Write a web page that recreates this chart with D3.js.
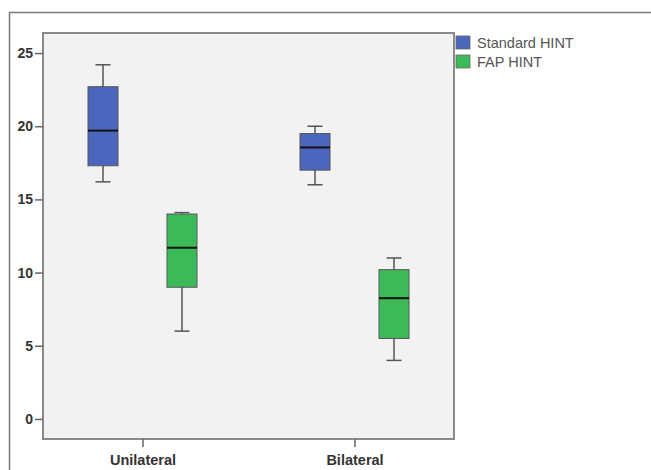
<!DOCTYPE html>
<html>
<head>
<meta charset="utf-8">
<script src="https://cdn.jsdelivr.net/npm/d3@7"></script>
<style>
  body { margin: 0; background: #fff; }
  svg { display: block; font-family: Arial, 'Liberation Sans', sans-serif; }
</style>
</head>
<body>
<div id="chart"></div>
<script>
const categories = ['Unilateral', 'Bilateral'];
const seriesNames = ['Standard HINT', 'FAP HINT'];
const seriesColors = ['#4a67bd', '#3cba58'];
// [min, q1, median, q3, max] per category
const standardHint = [
  [16.2, 17.3, 19.7, 22.7, 24.2],
  [16.0, 17.0, 18.55, 19.5, 20.0]
];
const fapHint = [
  [6.0, 9.0, 11.7, 14.0, 14.1],
  [4.0, 5.5, 8.25, 10.2, 11.0]
];
const yTicks = [0, 5, 10, 15, 20, 25];

const W = 651, H = 470;
const plot = { left: 43, top: 33, right: 454, bottom: 439 };

const svg = d3.select('#chart').append('svg').attr('width', W).attr('height', H);

// outer frame
svg.append('path')
  .attr('d', `M9.5,${H} V12.5 H${W}`)
  .attr('fill', 'none').attr('stroke', '#7a7a7a').attr('stroke-width', 1.5);

svg.append('rect')
  .attr('x', plot.left).attr('y', plot.top)
  .attr('width', plot.right - plot.left).attr('height', plot.bottom - plot.top)
  .attr('fill', '#f2f2f2').attr('stroke', '#8a8a8a').attr('stroke-width', 2);

const y = d3.scaleLinear().domain([-1.37, 26.37]).range([plot.bottom, plot.top]);
const x = d3.scaleBand().domain(categories).range([37, 461]);

const yAxis = svg.append('g')
  .attr('transform', `translate(${plot.left},0)`)
  .call(d3.axisLeft(y).tickValues(yTicks).tickSize(8).tickPadding(2));
yAxis.select('.domain').remove();
yAxis.selectAll('line').attr('stroke', '#666').attr('stroke-width', 1.5);
yAxis.selectAll('text').attr('fill', '#333').style('font-size', '14px').style('font-weight', 'bold');

const xAxis = svg.append('g')
  .attr('transform', `translate(0,${plot.bottom})`)
  .call(d3.axisBottom(x).tickSize(8).tickPadding(8));
xAxis.select('.domain').remove();
xAxis.selectAll('line').attr('stroke', '#666').attr('stroke-width', 1.5);
xAxis.selectAll('text').attr('fill', '#333').style('font-size', '14.5px').style('font-weight', 'bold');

const boxW = 30, capW = 15;
[standardHint, fapHint].forEach(function (series, si) {
  series.forEach(function (d, ci) {
    const cx = x(categories[ci]) + x.bandwidth() / 2 + (si === 0 ? -40 : 39);
    const g = svg.append('g');
    g.append('line').attr('x1', cx).attr('x2', cx).attr('y1', y(d[0])).attr('y2', y(d[4]))
      .attr('stroke', '#555').attr('stroke-width', 1.5);
    [d[0], d[4]].forEach(function (v) {
      g.append('line').attr('x1', cx - capW / 2).attr('x2', cx + capW / 2)
        .attr('y1', y(v)).attr('y2', y(v)).attr('stroke', '#555').attr('stroke-width', 1.5);
    });
    g.append('rect').attr('x', cx - boxW / 2).attr('y', y(d[3]))
      .attr('width', boxW).attr('height', y(d[1]) - y(d[3]))
      .attr('fill', seriesColors[si]).attr('stroke', '#555').attr('stroke-width', 1);
    g.append('line').attr('x1', cx - boxW / 2).attr('x2', cx + boxW / 2)
      .attr('y1', y(d[2])).attr('y2', y(d[2])).attr('stroke', '#111').attr('stroke-width', 2);
  });
});

// legend
const legend = svg.append('g').attr('transform', 'translate(456,36)');
seriesNames.forEach(function (name, i) {
  legend.append('rect').attr('x', 0).attr('y', i * 19).attr('width', 14).attr('height', 13)
    .attr('fill', seriesColors[i]).attr('stroke', '#666').attr('stroke-width', 0.8);
  legend.append('text').attr('x', 21).attr('y', i * 19 + 12)
    .attr('fill', '#555').style('font-size', '14.5px').text(name);
});
</script>
</body>
</html>
